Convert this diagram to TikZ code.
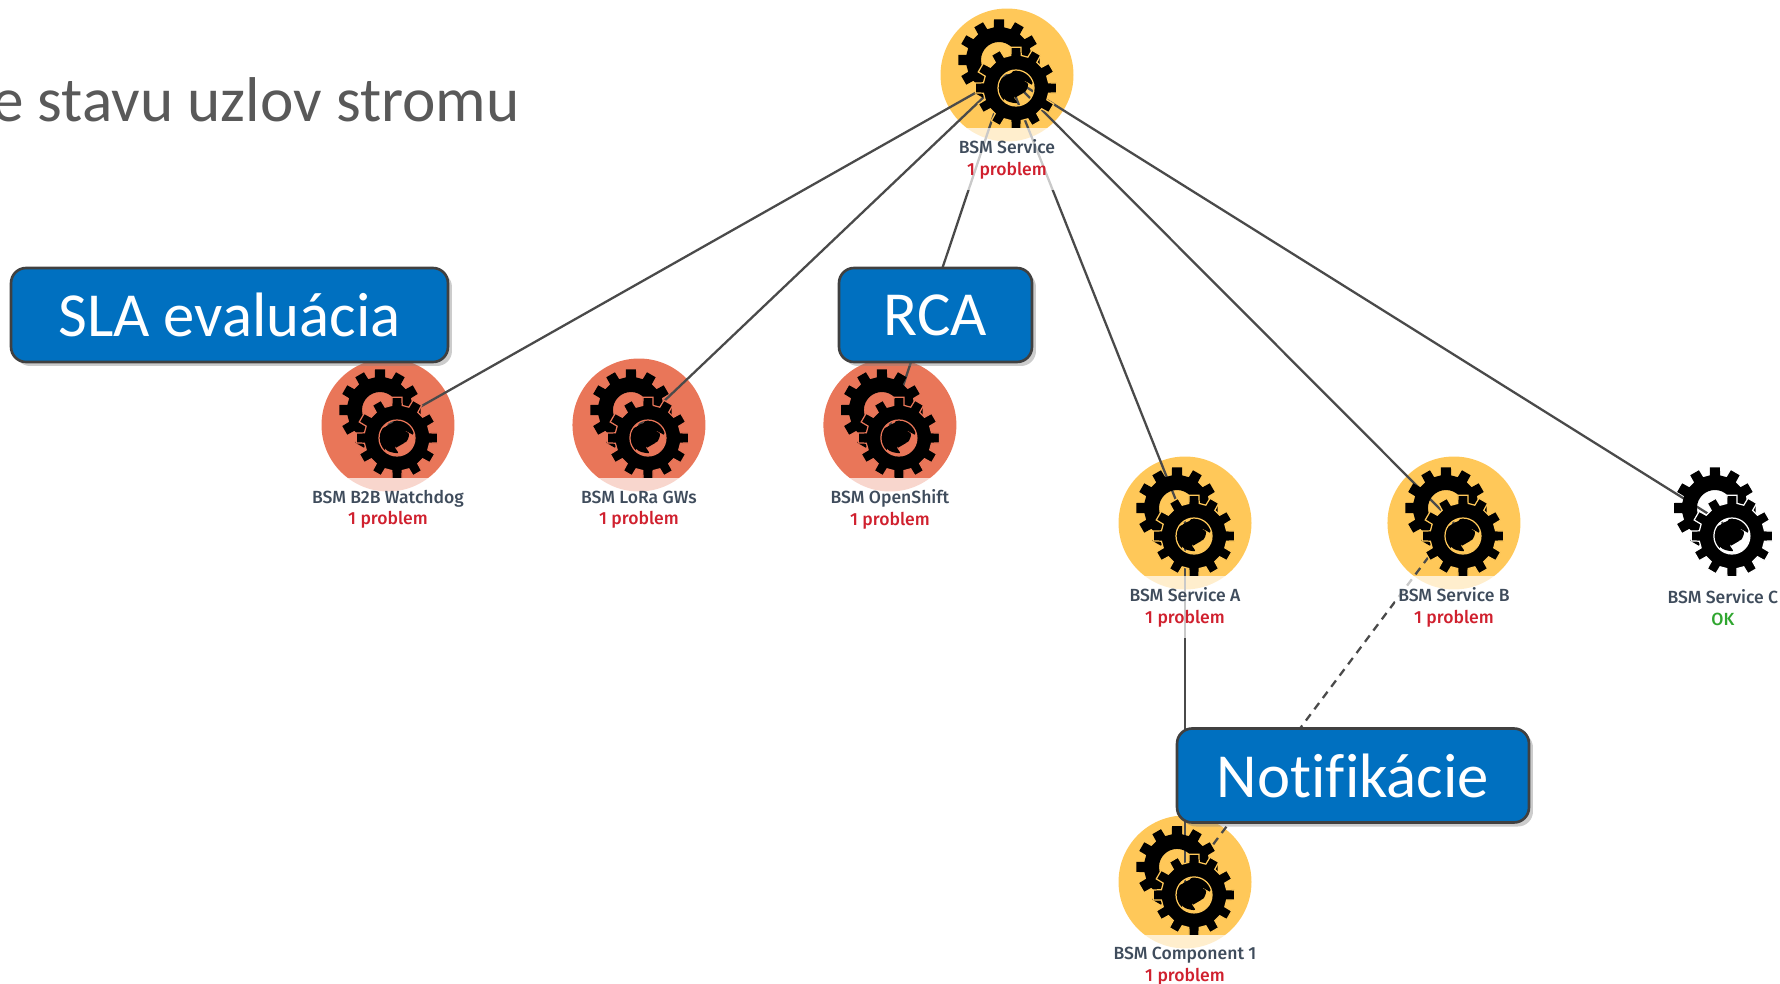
\documentclass[tikz,border=0pt]{standalone}
\usepackage{fontspec}
\setmainfont{Carlito}[Ligatures=NoCommon]
\newfontfamily\stitokfont{Fira Sans}[BoldFont={Fira Sans Medium}]
\usetikzlibrary{arrows,positioning,shapes,shadows}

\definecolor{oranzova}{HTML}{FFC859}
\definecolor{cervena}{HTML}{E97659}
\definecolor{modra}{HTML}{0070C0}
\definecolor{okraj}{HTML}{404040}
\definecolor{ciara}{HTML}{4A4A4A}
\definecolor{nazov}{HTML}{3F4C5C}
\definecolor{problem}{HTML}{D0202E}
\definecolor{okzelena}{HTML}{2FA62F}
\definecolor{titul}{HTML}{595959}

\tikzset{
  pics/kolesa/.style={code={
    % zadne koleso
    \fill[black,even odd rule,shift={(-8,-15)}] (-9:33)
      \foreach \a in {0,30,...,330}{ -- (\a-9:33) -- (\a-7:41) -- (\a+7:41) -- (\a+9:33)} -- cycle
      (0,0) circle (18);
    % predne koleso
    \filldraw[black,even odd rule,draw=#1,line width=0.7pt,shift={(9,13)}] (-9:33)
      \foreach \a in {0,30,...,330}{ -- (\a-9:33) -- (\a-7:41) -- (\a+7:41) -- (\a+9:33)} -- cycle
      (0,0) circle (18);
    \fill[black,shift={(9,13)}] plot[smooth cycle,tension=0.5] coordinates
      {(-16,-6) (-9,-13) (-1,-15) (5,-9) (12,-4) (9,4) (2,4) (-2,9) (1,15) (-9,13) (-16,5)};
  }}
}

\begin{document}
\begin{tikzpicture}[x=0.02cm,y=-0.02cm,thin]
\tikzstyle{uzol}=[shape=circle,draw=none,minimum size=2.66cm,inner sep=0pt]
\tikzstyle{stitok}=[fill=white,fill opacity=0.7,text opacity=1,text=nazov,align=center,inner sep=0pt,inner xsep=2pt,minimum height=1.24cm,font=\stitokfont\bfseries\fontsize{10}{12.2}\selectfont,node distance=1.69cm]
\tikzstyle{hrana}=[draw=ciara,line width=1.3pt]
\tikzstyle{tlacidlo}=[shape=rectangle,rounded corners=0.3cm,draw=okraj,line width=1.5pt,fill=modra,text=white,font=\fontsize{35.7}{42}\selectfont,minimum height=1.88cm,drop shadow={shadow xshift=0.08cm,shadow yshift=-0.08cm,opacity=0.4}]

\useasboundingbox (0,0) rectangle (1780,983);

\node[anchor=base east,text=titul,inner sep=0pt,font=\fontsize{36}{42}\selectfont] (T) at (520,122) {e stavu uzlov stromu};

\node[uzol,fill=oranzova]	(S) at (1007,75) {};
\node[uzol,fill=cervena]	(W) at (388,425) {};
\node[uzol,fill=cervena]	(L) [right of=W,node distance=5.02cm] {};
\node[uzol,fill=cervena]	(O) [right of=L,node distance=5.02cm] {};
\node[uzol,fill=oranzova]	(A) at (1185,523) {};
\node[uzol,fill=oranzova]	(B) [right of=A,node distance=5.38cm] {};
\node[uzol]					(C) [right of=B,node distance=5.38cm] {};
\node[uzol,fill=oranzova]	(K) [below of=A,node distance=7.18cm] {};

\path[hrana]
(S.center) edge (W.center)
(S.center) edge (L.center)
(S.center) edge (O.center)
(S.center) edge (A.center)
(S.center) edge (B.center)
(S.center) edge (C.center)
(A.center) edge (K.center)
(B.center) edge[dash pattern=on 4.5pt off 3.5pt] (K.center)
;

\pic at (S) {kolesa=oranzova};
\pic at (W) {kolesa=cervena};
\pic at (L) {kolesa=cervena};
\pic at (O) {kolesa=cervena};
\pic at (A) {kolesa=oranzova};
\pic at (B) {kolesa=oranzova};
\pic at (C) {kolesa=white};
\pic at (K) {kolesa=oranzova};

\node[stitok]	(Sn) [below of=S] {BSM Service\\\textcolor{problem}{1 problem}};
\node[stitok]	(Wn) [below of=W] {BSM B2B Watchdog\\\textcolor{problem}{1 problem}};
\node[stitok]	(Ln) [below of=L] {BSM LoRa GWs\\\textcolor{problem}{1 problem}};
\node[stitok]	(On) [below of=O] {BSM OpenShift\\\textcolor{problem}{1 problem}};
\node[stitok]	(An) [below of=A] {BSM Service A\\\textcolor{problem}{1 problem}};
\node[stitok]	(Bn) [below of=B] {BSM Service B\\\textcolor{problem}{1 problem}};
\node[stitok]	(Cn) [below of=C] {BSM Service C\\\textcolor{okzelena}{OK}};
\node[stitok]	(Kn) [below of=K] {BSM Component 1\\\textcolor{problem}{1 problem}};

\node[tlacidlo,minimum width=8.74cm]	(SLA) at (229.5,315) {SLA evaluácia};
\node[tlacidlo,minimum width=3.86cm]	(RCA) at (935.5,315) {RCA};
\node[tlacidlo,minimum width=7.04cm]	(N) at (1353,775.5) {Notifikácie};
\end{tikzpicture}
\end{document}
